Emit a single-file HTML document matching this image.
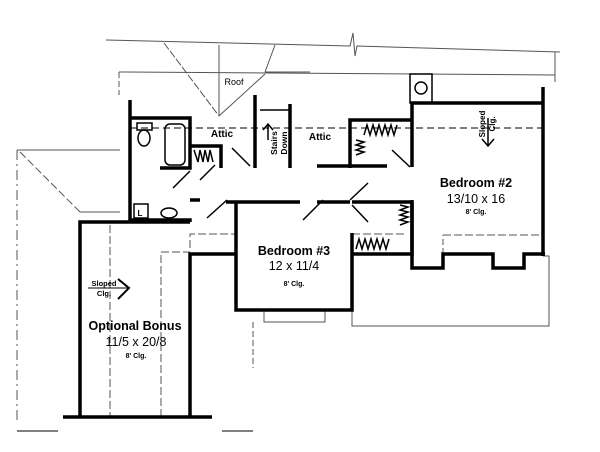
<!DOCTYPE html>
<html><head><meta charset="utf-8"><style>
html,body{margin:0;padding:0;background:#fff;}
svg{display:block;font-family:"Liberation Sans",sans-serif;}
</style></head><body>
<svg width="600" height="452" viewBox="0 0 600 452" xmlns="http://www.w3.org/2000/svg">
<g fill="none" stroke="#555" stroke-width="1">
 <polyline points="106,40 350,46 353,33 355,56 357,46 560,52"/>
 <line x1="119" y1="72" x2="555" y2="75"/>
 <line x1="555" y1="52" x2="555" y2="82"/>
 <line x1="119" y1="72" x2="119" y2="95" stroke-dasharray="6,3"/>
 <line x1="164" y1="43" x2="219" y2="116" stroke-dasharray="8,2"/>
 <line x1="219" y1="116" x2="265" y2="74"/>
 <line x1="275" y1="45" x2="265" y2="72"/>
 <line x1="219" y1="45" x2="219" y2="116"/>
 <line x1="265" y1="72" x2="310" y2="72"/>
 <line x1="17" y1="150" x2="120" y2="150"/>
 <line x1="17" y1="150" x2="17" y2="420" stroke-dasharray="10,4,2,4"/>
 <line x1="20" y1="152" x2="80" y2="212" stroke-dasharray="8,3"/>
 <line x1="80" y1="212" x2="120" y2="212"/>
 <line x1="17" y1="431" x2="58" y2="431" stroke-width="1.5"/>
 <line x1="222" y1="431" x2="253" y2="431" stroke-width="1.5"/>
 <line x1="253" y1="322" x2="253" y2="368" stroke-dasharray="6,3"/>
 <polyline points="352,310 352,326 549,326 549,256 543,256"/>
 <polyline points="264,310 264,322 325,322 325,310"/>
 <line x1="130" y1="128" x2="545" y2="128" stroke="#000" stroke-dasharray="7,4"/>
 <polyline points="110,225 110,417" stroke-dasharray="8,3"/>
 <polyline points="161,417 161,252 190,252" stroke-dasharray="8,3"/>
 <polyline points="190,248 190,234 236,234" stroke-dasharray="8,3"/>
 <polyline points="352,234 405,234" stroke-dasharray="8,3"/>
 <polyline points="443,254 443,235 M493,254 493,235 M524,254 524,235" stroke-dasharray="6,3"/>
 <line x1="443" y1="235" x2="543" y2="235" stroke-dasharray="8,3"/>
</g>
<g fill="none" stroke="#000" stroke-width="3.5">
 <polyline points="130,100 130,220 190,220 190,222"/>
 <polyline points="130,118 190,118 190,168 160,168"/>
 <polyline points="190,146 221,146 221,168"/>
 <polyline points="190,200 200,200"/>
 <line x1="255" y1="95" x2="255" y2="168"/>
 <line x1="290" y1="104" x2="290" y2="168"/>
 <polyline points="80,417 80,222 190,222"/>
 <polyline points="63,417 212,417"/>
 <polyline points="190,417 190,254 236,254"/>
 <polyline points="236,202 236,310 352,310 352,233"/>
 <line x1="226" y1="202" x2="300" y2="202"/>
 <line x1="317" y1="202" x2="350" y2="202"/>
 <polyline points="352,254 412,254 412,202"/>
 <line x1="352" y1="202" x2="412" y2="202"/>
 <polyline points="350,168 350,120 412,120"/>
 <line x1="317" y1="166" x2="387" y2="166"/>
 <polyline points="412,167 412,103 543,103"/>
 <line x1="543" y1="87" x2="543" y2="256"/>
 <polyline points="412,200 412,268 443,268 443,254 493,254 493,268 524,268 524,254 545,254"/>
</g>
<g fill="none" stroke="#000" stroke-width="1.5">
 <line x1="173" y1="188" x2="190" y2="171"/>
 <line x1="200" y1="180" x2="215" y2="165"/>
 <line x1="232" y1="148" x2="250" y2="166"/>
 <line x1="207" y1="218" x2="227" y2="200"/>
 <line x1="303" y1="220" x2="323" y2="200"/>
 <line x1="352" y1="205" x2="368" y2="222"/>
 <line x1="350" y1="200" x2="368" y2="183"/>
 <line x1="392" y1="150" x2="410" y2="167"/>
 <line x1="260" y1="110" x2="290" y2="110"/>
 <path d="M268,140 V124 M263,130 L268,124 L273,130"/>
 <rect x="137" y="123" width="15" height="7"/>
 <ellipse cx="144" cy="138" rx="6" ry="8"/>
 <rect x="165" y="124" width="20" height="41" rx="5"/>
 <ellipse cx="169" cy="213" rx="8" ry="5"/>
 <rect x="134" y="204" width="14" height="14"/>
 <rect x="410" y="74" width="22" height="29"/>
 <circle cx="421" cy="88" r="6"/>
 <path d="M482,139 l6,7 l6,-7 M488,146 V118"/>
 <path d="M118,279 L129,288 L118,299" stroke-width="2"/>
 <line x1="88" y1="288" x2="128" y2="288" stroke-width="1"/>
 <path d="M194,150 l4,12 l2,-12 l3,12 l2,-12 l3,12 l2,-12 l3,12"/>
 <path d="M364,135 l3,-10 l3,10 l3,-10 l3,10 l3,-10 l3,10 l3,-10 l3,10 l3,-10 l3,10 l3,-10 M356,140 l8,2 l-8,3 l8,2 l-8,3 l8,2 l-8,3"/>
 <path d="M356,249 l3,-10 l3,10 l3,-10 l3,10 l3,-10 l3,10 l3,-10 l3,10 l3,-10 l3,10 l3,-10 M400,205 l8,2 l-8,3 l8,2 l-8,3 l8,2 l-8,3 l8,2 l-8,3"/>
</g>
<g fill="#000" text-anchor="middle">
 <text x="234" y="85" font-size="9">Roof</text>
 <text x="222" y="137" font-size="10" font-weight="bold">Attic</text>
 <text x="320" y="140" font-size="10" font-weight="bold">Attic</text>
 <text x="140" y="216" font-size="8" font-weight="bold">L</text>
 <text transform="translate(277,143) rotate(-90)" font-size="8.5" font-weight="bold">Stairs</text>
 <text transform="translate(287,143) rotate(-90)" font-size="8.5" font-weight="bold">Down</text>
 <text transform="translate(485,124) rotate(-90)" font-size="8" font-weight="bold">Sloped</text>
 <text transform="translate(495,124) rotate(-90)" font-size="8" font-weight="bold">Clg.</text>
 <text x="476" y="187" font-size="12.5" font-weight="bold">Bedroom #2</text>
 <text x="476" y="203" font-size="12.5">13/10 x 16</text>
 <text x="476" y="214" font-size="7" font-weight="bold">8' Clg.</text>
 <text x="294" y="255" font-size="12.5" font-weight="bold">Bedroom #3</text>
 <text x="294" y="270" font-size="12.5">12 x 11/4</text>
 <text x="294" y="286" font-size="7" font-weight="bold">8' Clg.</text>
 <text x="104" y="286" font-size="7.5" font-weight="bold">Sloped</text>
 <text x="104" y="296" font-size="7.5" font-weight="bold">Clg.</text>
 <text x="135" y="330" font-size="12.5" font-weight="bold">Optional Bonus</text>
 <text x="136" y="346" font-size="12.5">11/5 x 20/8</text>
 <text x="136" y="358" font-size="7" font-weight="bold">8' Clg.</text>
</g>
</svg>
</body></html>
